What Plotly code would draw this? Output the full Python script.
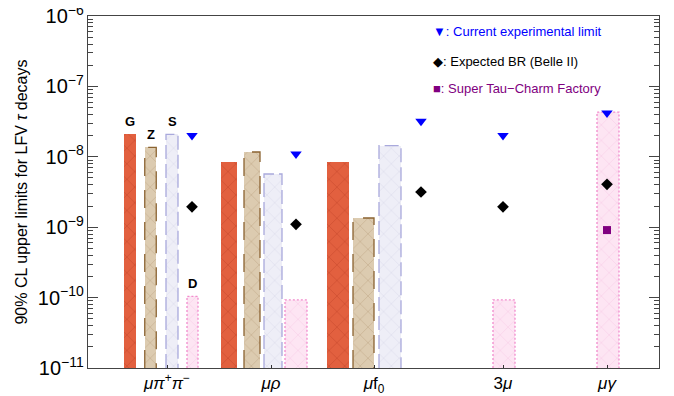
import math
import plotly.graph_objects as go

# ---------------- data ----------------
channels = ["mu pi+ pi-", "mu rho", "mu f0", "3mu", "mu gamma"]
tick_text = ["<i>μπ</i><sup>+</sup><i>π</i><sup>−</sup>", "<i>μρ</i>", "<i>μ</i>f<sub>0</sub>",
             "3<i>μ</i>", "<i>μγ</i>"]

br_G = [2.1e-8, 8.4e-9, 8.4e-9, None, None]
br_Z = [1.36e-8, 1.17e-8, 1.35e-9, None, None]
br_S = [2.08e-8, 5.7e-9, 1.44e-8, None, None]
br_D = [1.04e-10, 9.3e-11, None, 9.3e-11, 4.3e-8]
current_limit = [2.0e-8, 1.1e-8, 3.2e-8, 2.0e-8, 4.2e-8]
belle2_expected = [1.95e-9, 1.1e-9, 3.16e-9, 1.95e-9, 4.07e-9]
stcf_expected = [None, None, None, None, 9.1e-10]

# ---------------- layout helpers (positions / sizes) ----------------
cat_pos = [79, 183, 286, 415, 519]          # channel tick positions on x axis
offsets = {                                   # bar centre offset from channel tick
    "G": [-37, -42, -36, 0, 0],
    "Z": [-16.5, -19, -10.5, 0, 0],
    "S": [5, 2, 16, 0, 0],
    "D": [25.5, 25, 0, 1, 1],
}
widths = {
    "G": [12, 16, 22, 22, 22],
    "Z": [11.5, 16, 21, 22, 22],
    "S": [12, 18, 22, 22, 22],
    "D": [11, 22, 22, 22, 22],
}
marker_off = [25, 25, 47, 0, 0]
YMIN = 1e-11

styles = {
    "G": dict(fill="#e2603f", fg="#b83c22", line="#d85535", dash=None),
    "Z": dict(fill="#dccbb0", fg="#b09470", line="#8b6331", dash="18px,14px"),
    "S": dict(fill="#eeeef7", fg="#cfcfe2", line="#a9a9dc", dash="14px,5px"),
    "D": dict(fill="#fde5f3", fg="#f3bcdf", line="#f28ccd", dash="2px,2px"),
}
values = {"G": br_G, "Z": br_Z, "S": br_S, "D": br_D}

fig = go.Figure()

for m in ["G", "Z", "S", "D"]:
    xs, ys, ws = [], [], []
    ox, oy = [], []
    for i, v in enumerate(values[m]):
        if v is None:
            continue
        xc = cat_pos[i] + offsets[m][i]
        w = widths[m][i]
        xs.append(xc); ys.append(v); ws.append(w)
        ox += [xc - w / 2, xc - w / 2, xc + w / 2, xc + w / 2, None]
        oy += [YMIN, v, v, YMIN, None]
    st = styles[m]
    fig.add_trace(go.Bar(
        x=xs, y=ys, width=ws, name=m, showlegend=False,
        marker=dict(color=st["fill"], line=dict(width=0),
                    pattern=dict(shape="x", fgcolor=st["fg"], size=11, solidity=0.12)),
    ))
    if st["dash"] is not None:
        fig.add_trace(go.Scatter(
            x=ox, y=oy, mode="lines", showlegend=False, hoverinfo="skip",
            line=dict(color=st["line"], width=1.3, dash=st["dash"]),
        ))
    # model label over the first channel
    fig.add_annotation(x=xs[0], y=math.log10(ys[0]), yref="y", xref="x", text=f"<b>{m}</b>",
                       showarrow=False, yanchor="bottom", yshift=3,
                       font=dict(family="Liberation Sans", size=13, color="black"))

mx = [cat_pos[i] + marker_off[i] for i in range(len(channels))]
fig.add_trace(go.Scatter(x=mx, y=current_limit, mode="markers", showlegend=False,
                         marker=dict(symbol="triangle-down", size=10, color="#0000ff")))
fig.add_trace(go.Scatter(x=mx, y=belle2_expected, mode="markers", showlegend=False,
                         marker=dict(symbol="diamond", size=9, color="black")))
fig.add_trace(go.Scatter(x=mx, y=stcf_expected, mode="markers", showlegend=False,
                         marker=dict(symbol="square", size=8, color="#800080")))

# text legend
legend_items = [("▼: Current experimental limit", "#0000ff", 0.955),
                ("◆: Expected BR (Belle II)", "black", 0.872),
                ("■: Super Tau−Charm Factory", "#800080", 0.795)]
for txt, col, yy in legend_items:
    fig.add_annotation(x=0.600, y=yy, xref="paper", yref="paper", text=txt,
                       showarrow=False, xanchor="left", yanchor="middle",
                       font=dict(family="Liberation Sans", size=13, color=col))

# the page body adds an 8px offset, so the figure is 8px smaller than the window
fig.update_layout(
    width=666, height=388,
    margin=dict(l=80, r=15, t=8, b=28),
    plot_bgcolor="white", paper_bgcolor="white",
    barmode="overlay", bargap=0,
    font=dict(family="Liberation Sans", color="black"),
    xaxis=dict(range=[0, 571], tickvals=cat_pos, ticktext=tick_text, automargin=False,
               ticks="inside", ticklen=3, tickcolor="#333",
               showline=True, linecolor="#444", linewidth=1, mirror=True,
               showgrid=False, zeroline=False, ticklabeloverflow="allow",
               tickfont=dict(family="Liberation Sans", size=17)),
    yaxis=dict(type="log", range=[-11, -6], dtick=1, exponentformat="power", automargin=False,
               ticks="inside", ticklen=10, tickcolor="#444", mirror="ticks",
               showline=True, linecolor="#444", linewidth=1, ticklabeloverflow="allow",
               showgrid=False, zeroline=False,
               minor=dict(ticks="inside", ticklen=5, dtick="D1", tickcolor="#444", showgrid=False),
               tickfont=dict(family="Liberation Sans", size=16),
               title=dict(text="90% CL upper limits for LFV <i>τ</i> decays",
                          font=dict(family="Liberation Sans", size=16), standoff=6)),
)

fig.write_html("out.html")
